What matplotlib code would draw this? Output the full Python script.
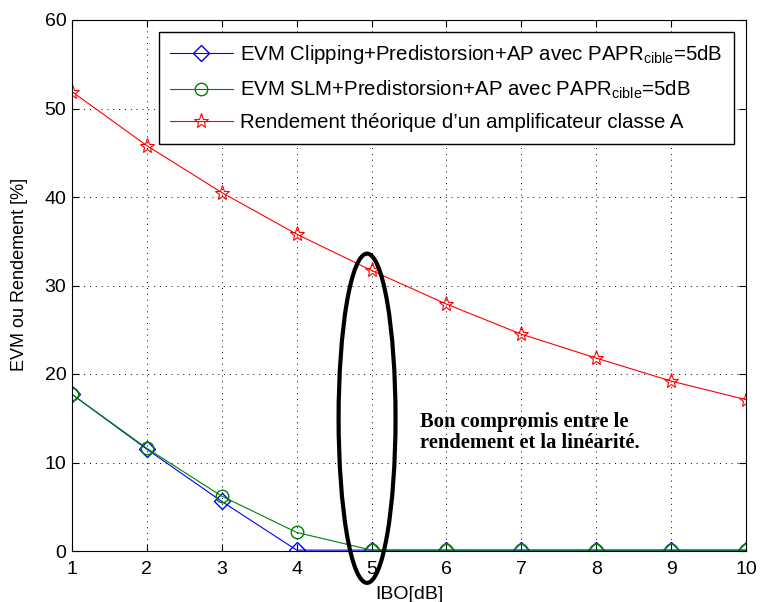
import matplotlib
matplotlib.use("Agg")
import matplotlib.pyplot as plt
from matplotlib.patches import Ellipse

IBO = [1, 2, 3, 4, 5, 6, 7, 8, 9, 10]  # IBO [dB]
EVM_CLIP = [17.7, 11.5, 5.6, 0.1, 0.1, 0.1, 0.1, 0.1, 0.1, 0.1]  # EVM clipping [%]
EVM_SLM = [17.7, 11.6, 6.2, 2.1, 0.1, 0.1, 0.1, 0.1, 0.1, 0.1]  # EVM SLM [%]
RENDEMENT = [51.9, 45.8, 40.5, 35.8, 31.7, 27.9, 24.5, 21.8, 19.2, 17.1]  # rendement classe A [%]

LABELS = [r"EVM Clipping+Predistorsion+AP avec PAPR$_{\mathrm{cible}}$=5dB",
          r"EVM SLM+Predistorsion+AP avec PAPR$_{\mathrm{cible}}$=5dB",
          "Rendement théorique d’un amplificateur classe A"]
NOTE = "Bon compromis entre le\nrendement et la linéarité."

plt.rcParams['font.family'] = ['Liberation Sans', 'DejaVu Sans']
plt.rcParams['mathtext.fontset'] = 'custom'
plt.rcParams['mathtext.rm'] = 'Liberation Sans'
plt.rcParams['mathtext.it'] = 'Liberation Sans:italic'

fig = plt.figure(figsize=(7.6, 6.02), dpi=100)
ax = fig.add_axes([72 / 760, 51 / 602, 674 / 760, 531 / 602])

ax.plot(IBO, EVM_CLIP, color='b', marker='D', markersize=8, markerfacecolor='none',
        linewidth=0.8, label=LABELS[0])
ax.plot(IBO, EVM_SLM, color=(0, 0.5, 0), marker='o', markersize=9, markerfacecolor='none',
        linewidth=0.8, label=LABELS[1])
ax.plot(IBO, RENDEMENT, color='r', marker='*', markersize=11, markerfacecolor='none',
        markeredgewidth=0.8, linewidth=0.8, label=LABELS[2])

ax.set_xlim(1, 10)
ax.set_ylim(0, 60)
ax.set_xticks(IBO)
ax.set_yticks([0, 10, 20, 30, 40, 50, 60])
ax.grid(True, color='k', linestyle=(0, (1, 5)), linewidth=0.7)
ax.tick_params(direction='in', top=True, right=True, labelsize=14, length=5)
ax.tick_params(axis='x', pad=7)
ax.tick_params(axis='y', pad=4)
for s in ax.spines.values():
    s.set_linewidth(0.8)

ax.set_xlabel("IBO[dB]", fontsize=14, labelpad=6)
ax.set_ylabel("EVM ou Rendement [%]", fontsize=13)
ax.yaxis.set_label_coords(-0.065, 0.52)

leg = ax.legend(loc='upper right', fontsize=14.7, fancybox=False, edgecolor='k',
                framealpha=1, borderaxespad=0.6, handlelength=3.1, handletextpad=0.35,
                labelspacing=0.6, borderpad=0.55)
leg.get_frame().set_linewidth(1.0)

# ellipse around IBO = 5 dB
ax.add_patch(Ellipse((4.94, 15.0), 0.76, 37.2, fill=False, edgecolor='k', linewidth=3,
                     clip_on=False, zorder=5))

ax.text(5.65, 15.7, NOTE, fontsize=14.8, fontweight='bold', family='Liberation Serif',
        va='top', ha='left', linespacing=1.05)

fig.savefig("out.png", dpi=100)
